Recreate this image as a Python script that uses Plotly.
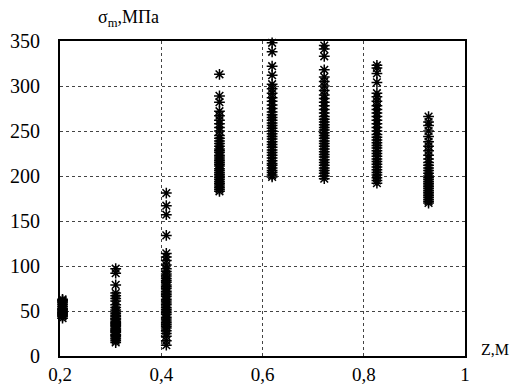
import plotly.graph_objects as go

# Column positions (Z, m) and stress values (MPa)
z_positions = [0.205, 0.31, 0.41, 0.515, 0.619, 0.722, 0.826, 0.928]

sigma_col1 = [42, 44, 45, 46, 47, 48, 49, 50, 51, 52, 53, 55, 57, 59, 60, 61, 62, 63]
sigma_col2 = [15, 17, 19, 20, 22, 23, 24, 26, 27, 28, 29, 30, 31, 33, 34, 35, 36, 37,
              38, 40, 41, 42, 44, 45, 47, 49, 51, 54, 57, 61, 64, 67, 70, 79, 92, 97]
sigma_col3 = [12, 17, 22, 25, 28, 31, 33, 35, 37, 39, 41, 43, 46, 48, 50, 52, 54, 57,
              59, 61, 63, 66, 68, 70, 72, 75, 77, 79, 82, 84, 86, 89, 91, 94, 97, 101,
              106, 110, 114, 134, 157, 167, 181]
sigma_col4 = [183, 185, 187, 189, 191, 192, 194, 196, 198, 200, 202, 204, 206, 208, 211,
              213, 215, 217, 219, 221, 223, 226, 228, 230, 233, 236, 239, 242, 245, 250,
              254, 258, 262, 267, 272, 282, 289, 313]
sigma_col5 = [199, 201, 204, 206, 209, 212, 214, 217, 220, 223, 226, 229, 232, 235, 238,
              241, 244, 247, 250, 253, 256, 259, 262, 265, 268, 271, 275, 279, 283, 287,
              292, 297, 302, 312, 322, 338, 348]
sigma_col6 = [197, 200, 203, 206, 209, 212, 215, 218, 221, 224, 227, 230, 233, 236, 239,
              242, 245, 248, 251, 254, 257, 260, 263, 266, 270, 274, 278, 282, 286, 290,
              295, 300, 305, 310, 318, 333, 341, 345]
sigma_col7 = [192, 195, 198, 201, 204, 207, 210, 213, 216, 219, 222, 225, 228, 231, 234,
              237, 240, 243, 246, 250, 254, 258, 262, 266, 270, 274, 278, 283, 288, 292,
              304, 314, 320, 323]
sigma_col8 = [170, 172, 174, 176, 178, 180, 182, 184, 186, 188, 190, 192, 194, 196, 198,
              200, 203, 206, 209, 212, 215, 219, 223, 228, 233, 238, 244, 250, 256, 260, 266]

sigma_columns = [sigma_col1, sigma_col2, sigma_col3, sigma_col4,
                 sigma_col5, sigma_col6, sigma_col7, sigma_col8]

x_tickvals = [0.2, 0.4, 0.6, 0.8, 1.0]
x_ticktext = ["0,2", "0,4", "0,6", "0,8", "1"]
y_tickvals = [0, 50, 100, 150, 200, 250, 300, 350]

xs, ys = [], []
for z, col in zip(z_positions, sigma_columns):
    xs.extend([z] * len(col))
    ys.extend(col)

fig = go.Figure()
fig.add_trace(go.Scatter(
    x=xs, y=ys, mode="markers",
    marker=dict(symbol="asterisk-open", size=9, color="black",
                line=dict(color="black", width=1.5)),
    showlegend=False, cliponaxis=False,
))

font_family = "'Liberation Serif', 'DejaVu Serif', serif"

fig.update_layout(
    width=516, height=387,
    margin=dict(l=60, r=51, t=41, b=31, autoexpand=False),
    paper_bgcolor="white", plot_bgcolor="white",
    font=dict(family=font_family, color="black", size=20),
    xaxis=dict(range=[0.2, 1.0], tickvals=x_tickvals, ticktext=x_ticktext,
               automargin=False,
               showline=True, linecolor="black", linewidth=2, mirror=True,
               showgrid=True, gridcolor="#444444", gridwidth=1, griddash="3px,3px",
               zeroline=False, ticks="", ticklabelstandoff=0,
               tickfont=dict(size=19, family=font_family)),
    yaxis=dict(range=[0, 350], tickvals=y_tickvals, automargin=False,
               showline=True, linecolor="black", linewidth=2, mirror=True,
               showgrid=True, gridcolor="#444444", gridwidth=1, griddash="3px,3px",
               zeroline=False, ticks="", ticklabelstandoff=14,
               tickfont=dict(size=20, family=font_family)),
    annotations=[
        dict(text="σ<sub>m</sub>,МПа", xref="paper", yref="paper",
             x=0.168, y=1.07, showarrow=False, xanchor="center", yanchor="middle",
             font=dict(size=18, family=font_family)),
        dict(text="Z,М", xref="paper", yref="paper",
             x=1.035, y=0.02, showarrow=False, xanchor="left", yanchor="middle",
             font=dict(size=16, family=font_family)),
    ],
)

fig.write_html(
    "out.html",
    config={"displayModeBar": False},
    post_script="document.body.style.margin='0';document.body.style.overflow='hidden';",
)
